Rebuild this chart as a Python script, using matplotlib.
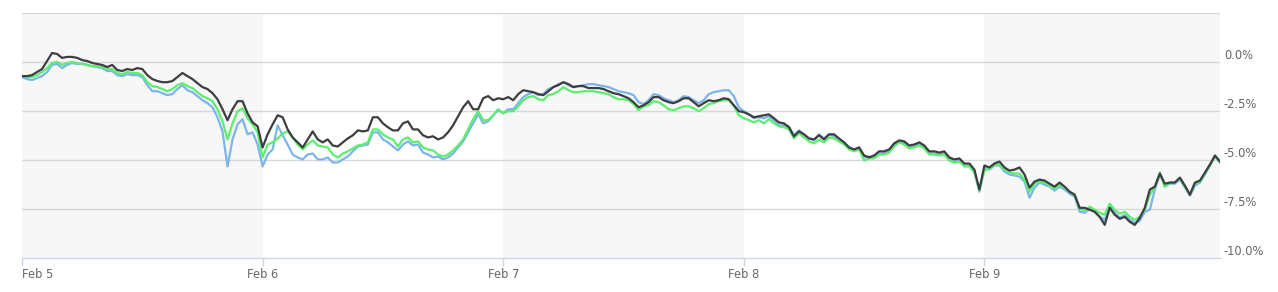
import numpy as np
import pandas as pd
import matplotlib
matplotlib.use("Agg")
import matplotlib.pyplot as plt
import matplotlib.dates as mdates
from matplotlib.transforms import blended_transform_factory

# half-hourly timestamps, Feb 5 00:00 onwards
times = pd.date_range("2018-02-05 00:00", periods=240, freq="30min")

# percent change, dark series
dark = [
    -0.72, -0.72, -0.67, -0.51, -0.36, 0.05, 0.46, 0.41, 0.21, 0.26,
    0.26, 0.21, 0.10, 0.05, -0.05, -0.10, -0.15, -0.26, -0.15, -0.41,
    -0.46, -0.36, -0.41, -0.31, -0.36, -0.67, -0.87, -0.97, -1.03, -1.03,
    -0.97, -0.77, -0.56, -0.72, -0.87, -1.08, -1.28, -1.38, -1.59, -1.90,
    -2.41, -2.97, -2.41, -2.00, -2.00, -2.62, -3.08, -3.28, -4.36, -3.69,
    -3.18, -2.72, -2.82, -3.44, -3.85, -4.10, -4.36, -3.95, -3.54, -3.95,
    -4.10, -3.95, -4.26, -4.31, -4.10, -3.90, -3.74, -3.49, -3.54, -3.49,
    -2.82, -2.82, -3.13, -3.33, -3.49, -3.49, -3.13, -3.03, -3.44, -3.44,
    -3.74, -3.85, -3.79, -3.95, -3.85, -3.59, -3.23, -2.77, -2.31, -2.00,
    -2.41, -2.41, -1.85, -1.74, -1.95, -1.85, -1.90, -1.79, -1.95, -1.64,
    -1.44, -1.49, -1.54, -1.64, -1.69, -1.49, -1.28, -1.18, -1.03, -1.13,
    -1.28, -1.23, -1.23, -1.33, -1.33, -1.33, -1.38, -1.49, -1.59, -1.64,
    -1.74, -1.85, -2.05, -2.31, -2.21, -2.05, -1.79, -1.79, -1.95, -2.05,
    -2.10, -2.00, -1.85, -1.85, -2.05, -2.26, -2.10, -1.95, -2.00, -1.95,
    -1.85, -1.90, -2.21, -2.51, -2.56, -2.67, -2.82, -2.77, -2.72, -2.67,
    -2.87, -3.08, -3.13, -3.33, -3.79, -3.54, -3.69, -3.90, -3.95, -3.74,
    -3.95, -3.69, -3.69, -3.90, -4.10, -4.36, -4.46, -4.36, -4.77, -4.87,
    -4.77, -4.56, -4.56, -4.46, -4.15, -4.00, -4.05, -4.26, -4.21, -4.10,
    -4.26, -4.56, -4.56, -4.62, -4.56, -4.87, -4.97, -4.92, -5.18, -5.18,
    -5.49, -6.51, -5.28, -5.38, -5.18, -5.08, -5.38, -5.54, -5.49, -5.38,
    -5.74, -6.41, -6.10, -6.00, -6.05, -6.21, -6.36, -6.15, -6.36, -6.62,
    -6.77, -7.44, -7.44, -7.54, -7.64, -7.90, -8.31, -7.44, -7.79, -8.00,
    -7.90, -8.15, -8.31, -7.95, -7.44, -6.51, -6.36, -5.69, -6.21, -6.15,
    -6.15, -5.90, -6.31, -6.77, -6.15, -6.05, -5.64, -5.23, -4.77, -5.08,
]

blue = [
    -0.77, -0.87, -0.92, -0.82, -0.72, -0.51, -0.15, -0.10, -0.31, -0.15,
    -0.05, -0.10, -0.10, -0.15, -0.21, -0.26, -0.31, -0.46, -0.46, -0.67,
    -0.72, -0.62, -0.67, -0.67, -0.77, -1.18, -1.49, -1.49, -1.59, -1.69,
    -1.64, -1.38, -1.18, -1.44, -1.54, -1.74, -1.95, -2.10, -2.31, -2.82,
    -3.54, -5.33, -3.95, -3.18, -2.92, -3.69, -3.59, -4.21, -5.33, -4.72,
    -4.46, -3.23, -3.74, -4.21, -4.72, -4.87, -4.97, -4.72, -4.67, -4.97,
    -4.97, -4.87, -5.13, -5.13, -4.97, -4.82, -4.56, -4.31, -4.26, -4.21,
    -3.59, -3.59, -3.95, -4.10, -4.31, -4.51, -4.21, -4.05, -4.26, -4.21,
    -4.62, -4.72, -4.87, -4.82, -4.97, -4.87, -4.67, -4.36, -4.05, -3.59,
    -3.13, -2.67, -3.13, -3.03, -2.72, -2.46, -2.62, -2.41, -2.41, -2.10,
    -1.79, -1.64, -1.54, -1.69, -1.64, -1.38, -1.28, -1.13, -1.03, -1.18,
    -1.28, -1.23, -1.18, -1.13, -1.13, -1.18, -1.23, -1.28, -1.38, -1.49,
    -1.54, -1.59, -1.69, -2.05, -2.15, -1.95, -1.64, -1.69, -1.85, -1.95,
    -2.05, -1.95, -1.74, -1.79, -1.95, -2.10, -1.95, -1.64, -1.54, -1.49,
    -1.44, -1.44, -1.74, -2.31, -2.51, -2.67, -2.87, -2.82, -2.87, -2.77,
    -2.97, -3.23, -3.23, -3.28, -3.74, -3.49, -3.69, -3.90, -4.00, -3.69,
    -3.90, -3.69, -3.79, -3.95, -4.10, -4.36, -4.51, -4.36, -4.87, -4.82,
    -4.87, -4.67, -4.67, -4.56, -4.26, -4.05, -4.15, -4.36, -4.31, -4.21,
    -4.36, -4.67, -4.67, -4.72, -4.67, -4.97, -5.08, -5.03, -5.28, -5.28,
    -5.59, -6.62, -5.38, -5.49, -5.28, -5.28, -5.59, -5.74, -5.79, -5.85,
    -6.10, -6.92, -6.41, -6.15, -6.26, -6.36, -6.56, -6.36, -6.51, -6.72,
    -6.87, -7.64, -7.69, -7.49, -7.64, -7.90, -8.05, -7.33, -7.69, -7.95,
    -7.79, -8.05, -8.21, -8.10, -7.64, -7.54, -6.51, -5.74, -6.36, -6.21,
    -6.21, -6.00, -6.41, -6.82, -6.31, -6.15, -5.74, -5.28, -4.82, -5.13,
]

green = [
    -0.72, -0.77, -0.77, -0.67, -0.51, -0.31, -0.05, 0.00, -0.15, -0.05,
    0.00, -0.05, -0.10, -0.15, -0.21, -0.21, -0.26, -0.36, -0.36, -0.56,
    -0.62, -0.51, -0.56, -0.56, -0.67, -1.03, -1.23, -1.28, -1.38, -1.49,
    -1.38, -1.18, -1.08, -1.23, -1.33, -1.54, -1.74, -1.85, -2.00, -2.41,
    -3.03, -3.95, -3.13, -2.51, -2.36, -2.87, -3.18, -3.59, -4.87, -4.21,
    -4.10, -3.90, -3.64, -3.54, -3.85, -4.21, -4.46, -4.21, -4.00, -4.26,
    -4.31, -4.36, -4.72, -4.87, -4.67, -4.56, -4.41, -4.26, -4.21, -4.10,
    -3.44, -3.44, -3.69, -3.85, -3.95, -4.31, -3.95, -3.85, -4.10, -4.05,
    -4.36, -4.46, -4.51, -4.72, -4.82, -4.72, -4.51, -4.26, -3.95, -3.44,
    -2.92, -2.51, -2.97, -2.97, -2.72, -2.41, -2.62, -2.51, -2.51, -2.26,
    -1.95, -1.79, -1.74, -1.90, -1.95, -1.69, -1.64, -1.49, -1.28, -1.44,
    -1.54, -1.54, -1.49, -1.49, -1.49, -1.54, -1.59, -1.64, -1.79, -1.90,
    -1.90, -1.95, -2.15, -2.46, -2.26, -2.21, -2.00, -2.05, -2.21, -2.41,
    -2.46, -2.36, -2.26, -2.26, -2.36, -2.51, -2.36, -2.15, -2.10, -2.00,
    -1.95, -1.95, -2.21, -2.72, -2.87, -2.97, -3.08, -2.97, -3.13, -2.92,
    -3.13, -3.28, -3.33, -3.44, -3.90, -3.64, -3.85, -4.05, -4.15, -3.95,
    -4.10, -3.85, -3.90, -4.05, -4.21, -4.46, -4.56, -4.46, -5.03, -4.92,
    -4.92, -4.72, -4.72, -4.62, -4.31, -4.10, -4.21, -4.41, -4.36, -4.26,
    -4.41, -4.72, -4.72, -4.77, -4.72, -5.03, -5.13, -5.08, -5.33, -5.33,
    -5.64, -6.56, -5.54, -5.44, -5.23, -5.23, -5.49, -5.64, -5.69, -5.69,
    -6.00, -6.62, -6.21, -6.10, -6.15, -6.31, -6.46, -6.26, -6.41, -6.62,
    -6.77, -7.49, -7.59, -7.38, -7.54, -7.69, -7.79, -7.23, -7.54, -7.74,
    -7.64, -7.90, -8.05, -7.90, -7.54, -6.77, -6.41, -5.64, -6.36, -6.15,
    -6.15, -5.95, -6.36, -6.77, -6.21, -6.10, -5.69, -5.28, -4.82, -5.08,
]

day_ticks = pd.date_range("2018-02-05", periods=5, freq="D")
day_labels = ["Feb 5", "Feb 6", "Feb 7", "Feb 8", "Feb 9"]
y_ticks = [-10, -7.5, -5, -2.5, 0, 2.5]
y_labels = ["-10.0%", "-7.5%", "-5.0%", "-2.5%", "0.0%", ""]

fig = plt.figure(figsize=(12.78, 2.92), dpi=100)
ax = fig.add_axes([22 / 1278, 34 / 292, 1198 / 1278, 245 / 292])

# alternating day bands
for i, d in enumerate(day_ticks):
    if i % 2 == 0:
        end = d + pd.Timedelta(days=1)
        ax.axvspan(d, min(end, times[-1]), color="#f7f7f7", lw=0, zorder=0)

for yv in y_ticks[1:]:
    ax.axhline(yv, color="#d8d8d8", lw=1, zorder=1)

ax.plot(times, blue, color="#7cb5ec", lw=1.6, zorder=3)
ax.plot(times, green, color="#5cef6e", lw=1.6, zorder=4)
ax.plot(times, dark, color="#3d3d42", lw=1.6, zorder=5)

ax.set_xlim(times[0], times[-1])
ax.set_ylim(-10, 2.5)

for side in ["top", "left", "right"]:
    ax.spines[side].set_visible(False)
ax.spines["bottom"].set_color("#ccd6eb")
ax.spines["bottom"].set_linewidth(1)

ax.set_xticks(day_ticks)
ax.set_xticklabels(day_labels)
ax.tick_params(axis="x", length=6, width=1, color="#ccd6eb", labelcolor="#666666",
               labelsize=8.3, pad=1.5)
ax.get_xticklabels()[0].set_ha("left")

ax.set_yticks([])
trans = blended_transform_factory(ax.transAxes, ax.transData)
for yv, lab in zip(y_ticks, y_labels):
    if lab:
        ax.text(1.0 + 4 / 1198, yv + 0.31, lab, transform=trans, ha="left", va="center",
                fontsize=8.3, color="#666666")

fig.savefig("out.png", dpi=100)
